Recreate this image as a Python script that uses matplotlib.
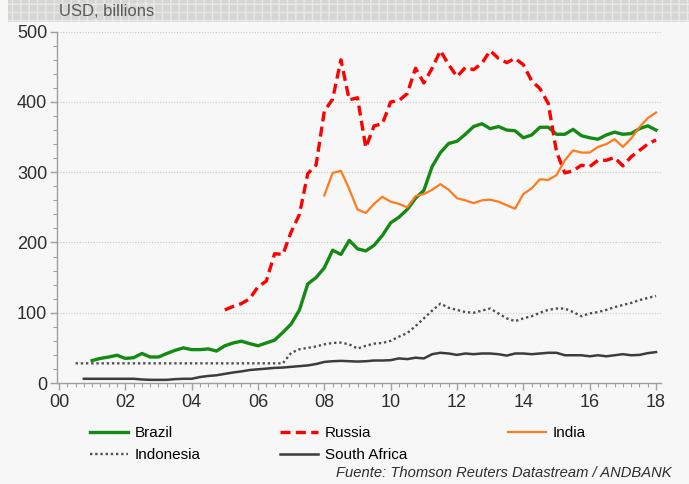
import matplotlib
matplotlib.use("Agg")
import matplotlib.pyplot as plt
import numpy as np
from matplotlib.patches import Rectangle

plt.rcParams['font.family'] = ['Liberation Sans', 'DejaVu Sans']

# quarterly reserves, USD billions
brazil_start = 2001.0
brazil = [32, 35, 37, 39.5, 35, 36, 42, 37, 37, 42, 46.5, 50, 47.5, 47.5, 48.5, 45.5,
          53, 57, 59.5, 56, 53, 57, 61, 72, 84, 104, 141, 150, 164, 189, 183, 203,
          191, 188, 196, 210, 228, 236, 247, 263, 274, 308, 328, 341, 344, 354, 365, 369,
          362, 365, 360, 359, 349, 353, 364, 364, 354, 354, 361, 352, 349, 347, 353, 357,
          354, 355, 362, 366, 360]

russia_start = 2005.0
russia = [104, 109, 113, 120, 137, 145, 184, 183, 215, 240, 298, 310, 387, 404, 460, 403,
          406, 335, 366, 369, 400, 402, 412, 448, 427, 448, 473, 453, 436, 449, 446, 455,
          473, 462, 456, 462, 453, 430, 419, 398, 329, 299, 302, 310, 308, 317, 317, 321,
          309, 322, 331, 340, 346]

india_start = 2008.0
india = [267, 299, 302, 276, 247, 242, 255, 265, 258, 255, 250, 266, 269, 275, 283, 275,
         263, 260, 256, 260, 261, 258, 253, 248, 269, 277, 290, 289, 296, 317, 331, 328,
         328, 336, 340, 347, 336, 348, 364, 377, 385]

indonesia_start = 2000.5
indonesia = [28, 28, 28, 28, 28, 28, 28, 28, 28, 28, 28, 28, 28, 28, 28, 28, 28, 28,
             28, 28, 28, 28, 28, 28, 28, 28, 43, 48, 50, 52, 55, 57, 57.5, 55, 49, 53,
             56, 57, 60, 66, 71, 81, 92, 103, 113, 107, 104, 101, 100, 103, 106, 99, 92,
             88, 92, 95, 100, 104, 106, 106, 101, 95, 99, 101, 104, 108, 111, 114, 118,
             121, 124]

safrica_start = 2000.75
safrica = [6, 6, 6, 6, 6, 6, 6, 5, 4.5, 4.5, 4.5, 5.5, 6, 6, 8.5, 10, 11, 13, 15, 16.5,
           18.5, 19.5, 20.5, 21.5, 22, 23, 24, 25, 27, 30, 31, 31.5, 31, 30.5, 31, 32, 32,
           32.5, 35, 34, 36, 35, 41, 43, 42, 40, 42, 41, 42, 42, 41, 39, 42, 42, 41, 42,
           43, 43, 39.5, 39.5, 39.5, 38, 39.5, 38, 39.5, 41, 39.5, 40, 42.5, 44]

year_ticks = [2000, 2002, 2004, 2006, 2008, 2010, 2012, 2014, 2016, 2018]
year_labels = ['00', '02', '04', '06', '08', '10', '12', '14', '16', '18']


def quarters(start, values):
    return start + np.arange(len(values)) / 4.0


bg = '#f7f7f7'
fig = plt.figure(figsize=(6.89, 4.84), dpi=100, facecolor=bg)

# grey title band
band = Rectangle((8 / 689, 1 - 22 / 484), 1, 22 / 484, transform=fig.transFigure,
                 facecolor='#d6d6d4', edgecolor='#e9e9e8', hatch='++', lw=0, zorder=0)
fig.patches.append(band)
fig.text(59 / 689, 1 - 12 / 484, 'USD, billions', fontsize=12, color='#5a5a5a',
         va='center', ha='left')

ax = fig.add_axes([57 / 689, 1 - 383 / 484, (661 - 57) / 689, (383 - 31.7) / 484])
ax.set_facecolor(bg)

l_br, = ax.plot(quarters(brazil_start, brazil), brazil, color='#138a13', lw=2.4,
                label='Brazil')
l_id, = ax.plot(quarters(indonesia_start, indonesia), indonesia, color='#505050', lw=1.7,
                linestyle=(0, (1, 1.2)), label='Indonesia')
l_ru, = ax.plot(quarters(russia_start, russia), russia, color='#ff0000', lw=2.4,
                linestyle=(0, (3, 1.6)), label='Russia')
l_sa, = ax.plot(quarters(safrica_start, safrica), safrica, color='#3c3c3c', lw=1.8,
                label='South Africa')
l_in, = ax.plot(quarters(india_start, india), india, color='#ff7b1c', lw=1.6,
                label='India')

ax.set_xlim(1999.94, 2018.15)
ax.set_ylim(0, 500)
ax.set_xticks(year_ticks)
ax.set_xticklabels(year_labels)
ax.set_xticks(np.arange(2000, 2018.01, 0.25), minor=True)
ax.set_yticks([0, 100, 200, 300, 400, 500])
ax.set_yticks(np.arange(0, 501, 20), minor=True)

for s in ['top', 'right']:
    ax.spines[s].set_visible(False)
for s in ['left', 'bottom']:
    ax.spines[s].set_color('#a0a0a0')
    ax.spines[s].set_linewidth(1.0)

ax.tick_params(axis='both', which='major', labelsize=13, labelcolor='#2e2e2e',
               color='#a0a0a0', length=5, width=1)
ax.tick_params(axis='both', which='minor', color='#a0a0a0', length=3, width=0.8)
ax.tick_params(axis='x', pad=3)
ax.tick_params(axis='y', pad=2)

ax.yaxis.grid(True, which='major', linestyle=(0, (1, 1.5)), color='#c8c8c8', lw=0.8)
ax.set_axisbelow(True)

# legend: three columns placed by hand
leg_kw = dict(loc='upper left', frameon=False, fontsize=11, handlelength=2.5,
              handletextpad=0.45, labelspacing=0.55, borderaxespad=0, borderpad=0)
for handles, x0 in [([l_br, l_id], 90), ([l_ru, l_sa], 280), ([l_in], 508)]:
    fig.legend(handles=handles, bbox_to_anchor=(x0 / 689, 1 - 426 / 484), **leg_kw)

fig.text(672 / 689, 1 - 473 / 484, 'Fuente: Thomson Reuters Datastream / ANDBANK',
         fontsize=10.6, style='italic', color='#2e2e2e', ha='right', va='center')

fig.savefig('out.png', dpi=100, facecolor=bg)
